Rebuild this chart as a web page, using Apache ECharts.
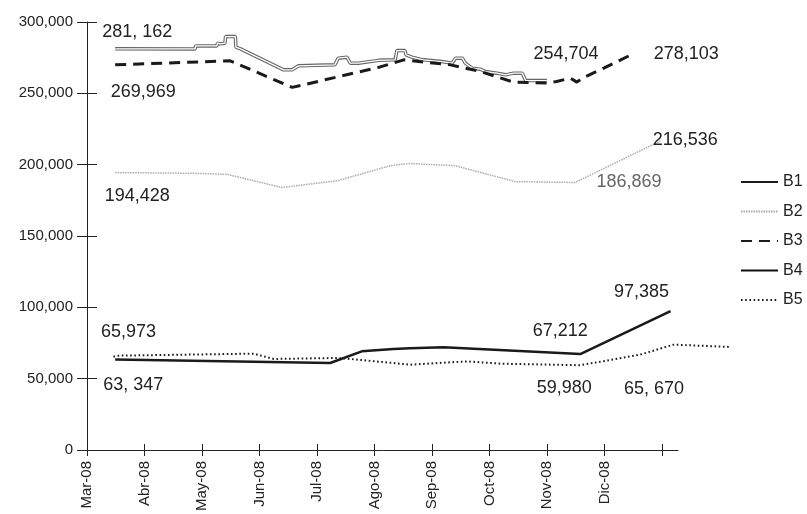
<!DOCTYPE html>
<html lang="es">
<head>
<meta http-equiv="Content-Type" content="text/html; charset=utf-8" />
<title>B1-B5 2008</title>
<script type="text/javascript" src="https://cdn.jsdelivr.net/npm/echarts@6/dist/echarts.min.js"></script>
<style type="text/css">
    html, body { margin: 0; padding: 0; background: #fff; }
    #main { width: 807px; height: 514px; }
</style>
</head>
<body>
<div id="main"></div>
<script type="text/javascript">
    // meses del eje x (0 = Mar-08)
    var months = ['Mar-08', 'Abr-08', 'May-08', 'Jun-08', 'Jul-08', 'Ago-08', 'Sep-08', 'Oct-08', 'Nov-08', 'Dic-08'];
    var yTicks = [0, 50000, 100000, 150000, 200000, 250000, 300000];

    // series: [mes, valor]
    var B1 = [[0.49, 63347], [4.23, 61000], [4.78, 69150], [5.33, 70770], [5.62, 71260], [6.2, 72000], [8.58, 67212], [10.15, 97385]];
    var B2 = [[0.49, 194428], [1.8, 194000], [2.43, 193250], [3.39, 184000], [4.35, 188700], [5.27, 199200], [5.6, 200800], [6.4, 199300], [7.45, 188100], [8.49, 187500], [9.97, 216536]];
    var B3 = [[0.49, 269969], [2.49, 272770], [3.57, 254150], [5.1, 268500], [5.51, 273470], [6.32, 269970], [6.84, 265350], [7.42, 257860], [8.0, 257160], [8.17, 258350], [8.41, 260660], [8.52, 257860], [8.64, 261150], [8.99, 267660], [9.52, 278103]];
    var B4 = [[0.49, 281162], [1.88, 281160], [1.89, 283260], [2.26, 283260], [2.27, 285150], [2.32, 284660], [2.4, 285150], [2.41, 289770], [2.58, 289770], [2.59, 282350], [2.67, 281160], [3.42, 266460], [3.57, 266460], [3.68, 269260], [4.31, 269960], [4.37, 274650], [4.52, 275350], [4.58, 271150], [4.72, 271150], [4.75, 272270], [5.07, 273110], [5.36, 273460], [5.39, 279970], [5.53, 279970], [5.55, 276960], [5.65, 275350], [5.85, 273460], [6.17, 272270], [6.35, 271150], [6.41, 274650], [6.53, 274650], [6.58, 271150], [6.7, 267650], [6.84, 266950], [6.93, 265270], [7.13, 264150], [7.28, 262960], [7.42, 264150], [7.57, 264150], [7.63, 258970], [8.0, 258970]];
    var B5 = [[0.46, 65973], [0.55, 66670], [2.9, 68070], [3.25, 64360], [4.35, 65060], [4.58, 64360], [5.62, 60370], [6.61, 62680], [7.19, 61070], [8.58, 59980], [9.62, 67370], [10.2, 74370], [11.19, 72760]];

    // textos sueltos: serie, punto, texto
    var notes = [
        ['B4', 0, '281, 162'], ['B3', 0, '269,969'], ['B3', 8, '254,704'], ['B3', 14, '278,103'],
        ['B2', 10, '216,536'], ['B2', 0, '194,428'], ['B2', 9, '186,869'],
        ['B1', 7, '97,385'], ['B5', 0, '65,973'], ['B1', 6, '67,212'], ['B1', 0, '63, 347'],
        ['B5', 9, '59,980'], ['B5', 10, '65, 670']
    ];
    // desplazamiento de cada texto respecto a su punto (px)
    var noteOffset = [[22, -17], [28, 27], [19, -29], [52, 1], [25, -1], [22, 23], [54, 0],
                      [-29, -19], [15, -25], [-20, -23], [18, 25], [-16, 23], [14, 34]];

    var dataBy = { B1: B1, B2: B2, B3: B3, B4: B4, B5: B5 };
    var font = 'Liberation Sans, Arial, Helvetica, sans-serif';

    // el eje x termina en 10.28 meses, pero B5 sigue mas alla: segunda rejilla mas ancha con la misma escala
    var xMax = 10.28, xMaxWide = 11.4;
    var gridLeft = 87, gridW = 591;
    var wideRight = 807 - gridLeft - gridW * xMaxWide / xMax;

    function marks(name) {
        var out = [];
        notes.forEach(function (n, k) {
            if (n[0] !== name) return;
            out.push({
                coord: dataBy[name][n[1]],
                label: {
                    formatter: n[2],
                    offset: noteOffset[k],
                    color: n[2] === '186,869' ? '#666' : '#222'
                }
            });
        });
        return {
            symbol: 'circle', symbolSize: 1, silent: true,
            itemStyle: { color: 'transparent' },
            label: { show: true, position: 'inside', fontSize: 18, fontFamily: font },
            data: out
        };
    }

    var tickIdx = months.map(function (m, i) { return i; });

    function xAxisCfg(inside, showLine) {
        return {
            type: 'value', min: 0, max: xMax, position: 'bottom', gridIndex: 0,
            axisLine: { show: showLine, onZero: false, lineStyle: { color: '#222', width: 1 } },
            axisTick: { show: true, inside: inside, length: 6, lineStyle: { color: '#222' },
                        customValues: tickIdx.concat([10]) },
            axisLabel: { show: !inside, rotate: 90, margin: 11, fontSize: 15, color: '#222', fontFamily: font,
                         customValues: tickIdx,
                         formatter: function (v) { return months[Math.round(v)] || ''; } },
            splitLine: { show: false }
        };
    }

    function yAxisCfg(inside, showLine) {
        return {
            type: 'value', min: 0, max: 300000, interval: 50000, position: 'left', gridIndex: 0,
            axisLine: { show: showLine, lineStyle: { color: '#222', width: 1 } },
            axisTick: { show: true, inside: inside, length: 10, lineStyle: { color: '#222' } },
            axisLabel: { show: !inside, margin: 14, fontSize: 15, color: '#222', fontFamily: font,
                         formatter: function (v) { return v.toLocaleString('en-US'); } },
            splitLine: { show: false }
        };
    }

    var hidden = { show: false };
    var myChart = echarts.init(document.getElementById('main'), null, { renderer: 'canvas' });

    var option = {
        animation: false,
        backgroundColor: '#fff',
        grid: [
            { left: gridLeft, width: gridW, top: 22, bottom: 63 },
            { left: gridLeft, right: wideRight, top: 22, bottom: 63 }
        ],
        legend: {
            orient: 'vertical', left: 735, top: 169,
            itemWidth: 37, itemHeight: 14, itemGap: 13.5,
            itemStyle: { opacity: 0 },
            textStyle: { fontSize: 16, color: '#222', fontFamily: font },
            data: ['B1', 'B2', 'B3', { name: 'B4', lineStyle: { color: '#111', width: 2 } }, 'B5']
        },
        xAxis: [
            xAxisCfg(false, true), xAxisCfg(true, false),
            { type: 'value', gridIndex: 1, min: 0, max: xMaxWide, axisLine: hidden, axisTick: hidden, axisLabel: hidden, splitLine: hidden }
        ],
        yAxis: [
            yAxisCfg(false, true), yAxisCfg(true, false),
            { type: 'value', gridIndex: 1, min: 0, max: 300000, axisLine: hidden, axisTick: hidden, axisLabel: hidden, splitLine: hidden }
        ],
        series: [
            { name: 'B2', type: 'line', data: B2, symbol: 'none', z: 2, itemStyle: { color: '#aaa' },
              lineStyle: { color: '#aaa', width: 1.5, type: [1.5, 1] }, markPoint: marks('B2') },
            { name: 'B4', type: 'line', data: B4, symbol: 'none', z: 3, itemStyle: { color: '#111' },
              lineStyle: { color: '#666', width: 3.5 }, markPoint: marks('B4') },
            { name: 'B4 centro', type: 'line', data: B4, symbol: 'none', z: 4, silent: true,
              lineStyle: { color: '#fff', width: 1.3 } },
            { name: 'B3', type: 'line', data: B3, symbol: 'none', z: 5, itemStyle: { color: '#1a1a1a' },
              lineStyle: { color: '#1a1a1a', width: 3, type: [11, 7] }, markPoint: marks('B3') },
            { name: 'B1', type: 'line', data: B1, symbol: 'none', z: 5, itemStyle: { color: '#1a1a1a' },
              lineStyle: { color: '#1a1a1a', width: 2.5 }, markPoint: marks('B1') },
            { name: 'B5', type: 'line', data: B5, symbol: 'none', z: 5, itemStyle: { color: '#1a1a1a' },
              xAxisIndex: 2, yAxisIndex: 2,
              lineStyle: { color: '#1a1a1a', width: 2, type: [1.6, 2.6] }, markPoint: marks('B5') }
        ]
    };

    myChart.setOption(option);
</script>
</body>
</html>
